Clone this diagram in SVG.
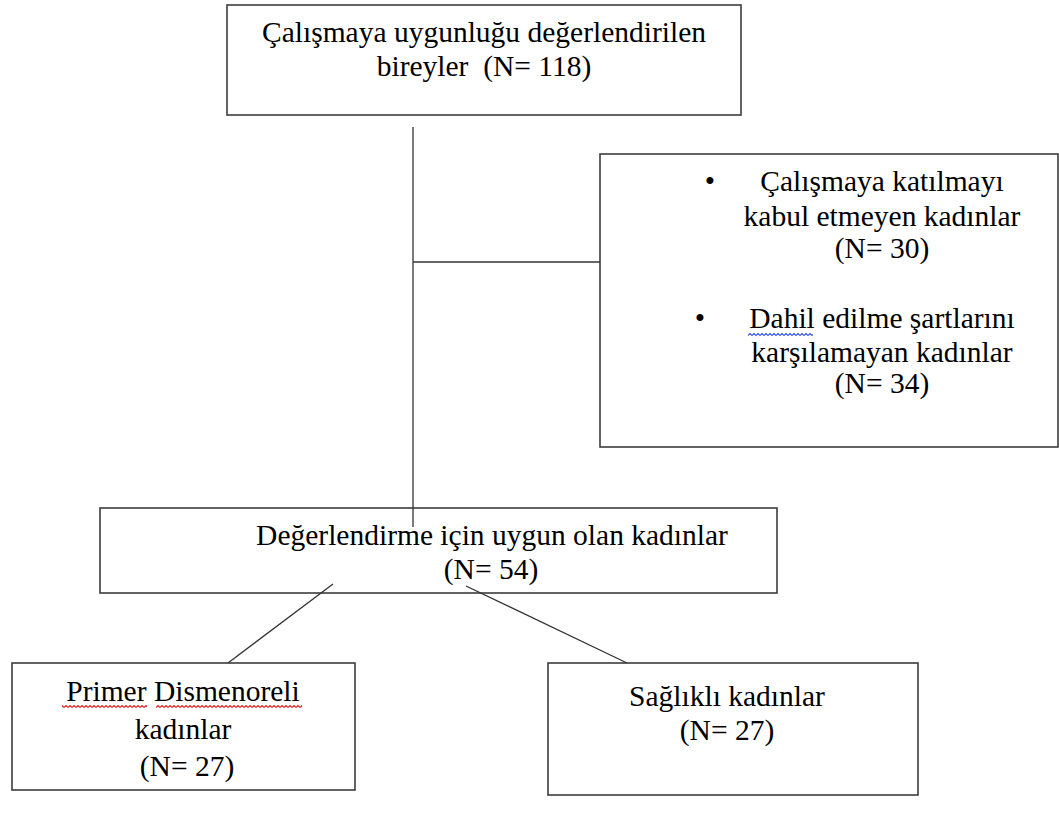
<svg xmlns="http://www.w3.org/2000/svg" width="1059" height="821" viewBox="0 0 1059 821">
<style>
.box{fill:#fff;stroke:#3c3c3c;stroke-width:1.6}
.t{font-family:"Liberation Serif","Times New Roman",serif;font-size:29.5px;fill:#000;text-anchor:middle}
.c{stroke:#333;stroke-width:1.3;fill:none}
</style>
<defs>
<pattern id="wavyR" x="0" y="0" width="4" height="3" patternUnits="userSpaceOnUse"><path d="M0 2.5 L2 0.5 L4 2.5" fill="none" stroke="#e02020" stroke-width="1.1"/></pattern>
<pattern id="wavyB" x="0" y="0" width="4" height="3" patternUnits="userSpaceOnUse"><path d="M0 2.5 L2 0.5 L4 2.5" fill="none" stroke="#3050e0" stroke-width="1.1"/></pattern>
</defs>
<rect width="1059" height="821" fill="#fff"/>
<g id="n-top">
<rect class="box" x="227" y="5" width="514" height="110"/>
<text class="t" x="484" y="42">Çalışmaya uygunluğu değerlendirilen</text>
<text class="t" x="484" y="76" xml:space="preserve">bireyler  (N= 118)</text>
</g>
<g id="n-excluded">
<rect class="box" x="600" y="154" width="458" height="293"/>
<text class="t" x="710" y="191">•</text>
<text class="t" x="882" y="191">Çalışmaya katılmayı</text>
<text class="t" x="882" y="226">kabul etmeyen kadınlar</text>
<text class="t" x="882" y="258">(N= 30)</text>
<text class="t" x="700" y="328">•</text>
<text class="t" x="882" y="328">Dahil edilme şartlarını</text>
<rect x="748" y="333" width="65" height="3" fill="url(#wavyB)"/>
<text class="t" x="882" y="362">karşılamayan kadınlar</text>
<text class="t" x="882" y="393">(N= 34)</text>
</g>
<g id="n-eligible">
<rect class="box" x="100" y="508" width="677" height="85"/>
<text class="t" x="492" y="545">Değerlendirme için uygun olan kadınlar</text>
<text class="t" x="491" y="579">(N= 54)</text>
</g>
<g id="n-dysmenorrhea">
<rect class="box" x="12" y="663" width="343" height="127"/>
<text class="t" x="183" y="701">Primer Dismenoreli</text>
<rect x="62" y="705" width="85" height="3" fill="url(#wavyR)"/>
<rect x="156" y="705" width="146" height="3" fill="url(#wavyR)"/>
<text class="t" x="183" y="739">kadınlar</text>
<text class="t" x="187" y="776">(N= 27)</text>
</g>
<g id="n-healthy">
<rect class="box" x="548" y="663" width="370" height="132"/>
<text class="t" x="727" y="706">Sağlıklı kadınlar</text>
<text class="t" x="727" y="740">(N= 27)</text>
</g>
<g id="connectors">
<line class="c" x1="413" y1="127" x2="413" y2="527" stroke="#555" stroke-width="1.6"/>
<line class="c" x1="413" y1="262" x2="600" y2="262"/>
<line class="c" x1="333" y1="584" x2="228" y2="663"/>
<line class="c" x1="466" y1="586" x2="627" y2="663"/>
</g>
</svg>
